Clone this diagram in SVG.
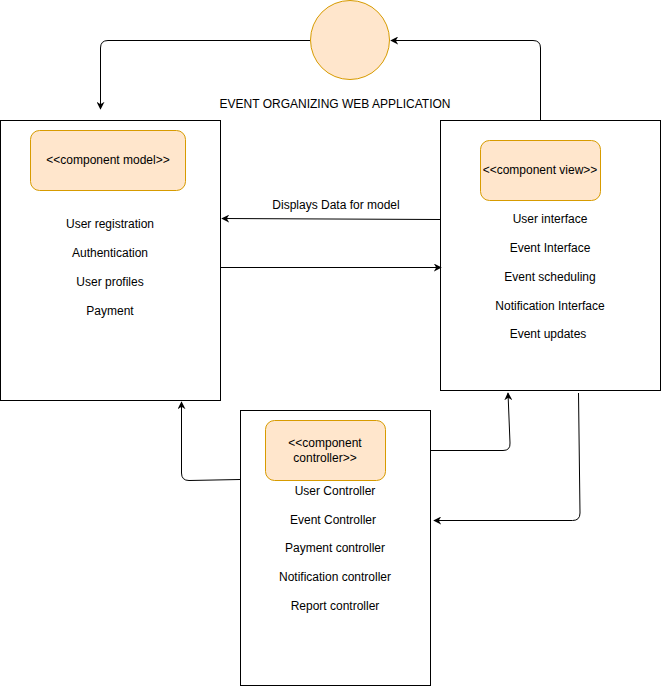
<svg xmlns="http://www.w3.org/2000/svg" width="661" height="686" viewBox="0 0 661 686">
<style>
text{font-family:"Liberation Sans",Arial,sans-serif;font-size:12px;fill:#000;text-anchor:middle}
.box{fill:#fff;stroke:#000;stroke-width:1}
.comp{fill:#ffe6cc;stroke:#d79b00;stroke-width:1}
.c{fill:none;stroke:#000;stroke-width:1}
</style>
<defs>
<marker id="ah" viewBox="0 0 10 10" refX="9" refY="5" markerWidth="8" markerHeight="8" markerUnits="userSpaceOnUse" orient="auto">
<path d="M0,0 L10,5 L0,10 L3,5 Z" fill="#000"/>
</marker>
</defs>
<rect width="661" height="686" fill="#fff"/>
<g id="app">
<ellipse cx="350" cy="40" rx="39.5" ry="39.5" class="comp"/>
<text x="335" y="108">EVENT ORGANIZING WEB APPLICATION</text>
</g>
<g id="model">
<rect x="0.5" y="120.5" width="220" height="280" class="box"/>
<rect x="30.5" y="130.5" width="155" height="60" rx="9" class="comp"/>
<text x="108" y="164">&lt;&lt;component model&gt;&gt;</text>
<text x="110" y="228">User registration</text>
<text x="110" y="257">Authentication</text>
<text x="110" y="286">User profiles</text>
<text x="110" y="315">Payment</text>
</g>
<g id="view">
<rect x="440.5" y="120.5" width="220" height="270" class="box"/>
<rect x="480.5" y="140.5" width="120" height="60" rx="9" class="comp"/>
<text x="540" y="174">&lt;&lt;component view&gt;&gt;</text>
<text x="550" y="223">User interface</text>
<text x="550" y="252">Event Interface</text>
<text x="550" y="281">Event scheduling</text>
<text x="550" y="310">Notification Interface</text>
<text x="548" y="338">Event updates</text>
</g>
<g id="controller">
<rect x="240.5" y="410.5" width="190" height="275" class="box"/>
<rect x="265.5" y="420.5" width="120" height="60" rx="9" class="comp"/>
<text x="325" y="447">&lt;&lt;component</text>
<text x="325" y="462">controller&gt;&gt;</text>
<text x="335" y="495">User Controller</text>
<text x="333" y="524">Event Controller</text>
<text x="335" y="552">Payment controller</text>
<text x="335" y="581">Notification controller</text>
<text x="335" y="610">Report controller</text>
</g>
<g id="connectors">
<path class="c" d="M310,40.5 L108,40.5 Q100.5,40.5 100.5,48 L100.5,109" marker-end="url(#ah)"/>
<path class="c" d="M540.5,120 L540.5,48 Q540.5,40.5 533,40.5 L391,40.5" marker-end="url(#ah)"/>
<path class="c" d="M440,219.5 L222,218.5" marker-end="url(#ah)"/>
<text x="336" y="209">Displays Data for model</text>
<path class="c" d="M220,267.5 L441,267.5" marker-end="url(#ah)"/>
<path class="c" d="M240,479.5 L189,480.5 Q181.5,480.5 181.5,473 L181.5,402" marker-end="url(#ah)"/>
<path class="c" d="M430,450.5 L503,450.5 Q510.5,450.5 510,443 L508,393" marker-end="url(#ah)"/>
<path class="c" d="M578.5,393 L580,513 Q580,520.5 572.5,520.5 L434,520.5" marker-end="url(#ah)"/>
</g>
</svg>
